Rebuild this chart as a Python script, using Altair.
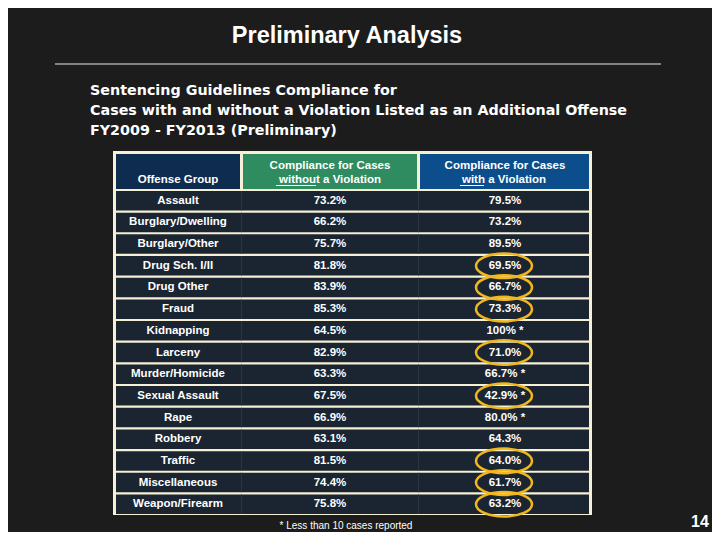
import altair as alt
import pandas as pd

# ---------------- data ----------------
offenses = ["Assault", "Burglary/Dwelling", "Burglary/Other", "Drug Sch. I/II", "Drug Other",
            "Fraud", "Kidnapping", "Larceny", "Murder/Homicide", "Sexual Assault", "Rape",
            "Robbery", "Traffic", "Miscellaneous", "Weapon/Firearm"]
without_violation = [73.2, 66.2, 75.7, 81.8, 83.9, 85.3, 64.5, 82.9, 63.3, 67.5, 66.9, 63.1, 81.5, 74.4, 75.8]
with_violation = [79.5, 73.2, 89.5, 69.5, 66.7, 73.3, 100, 71.0, 66.7, 42.9, 80.0, 64.3, 64.0, 61.7, 63.2]
few_cases = [False, False, False, False, False, False, True, False, True, True, True, False, False, False, False]

title = "Preliminary Analysis"
subtitle = ["Sentencing Guidelines Compliance for",
            "Cases with and without a Violation Listed as an Additional Offense",
            "FY2009 - FY2013 (Preliminary)"]
header_group = "Offense Group"
header_line1 = "Compliance for Cases"
header_without = "without a Violation"
header_with = "with a Violation"
footnote = "* Less than 10 cases reported"
page_number = "14"


def fmt(v, star=False):
    s = ("%d%%" % v) if v == 100 else ("%.1f%%" % v)
    return s + (" *" if star else "")


table = pd.DataFrame({
    "group": offenses,
    "without_txt": [fmt(v) for v in without_violation],
    "with_txt": [fmt(v, s) for v, s in zip(with_violation, few_cases)],
    "lower": [w < wo for w, wo in zip(with_violation, without_violation)],
})

# ---------------- layout ----------------
W, H = 704, 524
BG = "#1c1c1c"
CREAM = "#f6f1d6"
ROW = "#1b2531"
FONT = "Liberation Sans"

C1 = (108, 232)
C2 = (235, 409)
C3 = (412, 581)
HEAD_Y = (146, 181)
ROWS_Y = [183, 506]

one = alt.Data(values=[{"k": 1}])

y_row = alt.Y("group:N", sort=offenses,
              scale=alt.Scale(domain=offenses, range=ROWS_Y, paddingInner=0.1, paddingOuter=0),
              axis=None)


def box(x0, x1, y0, y1, color):
    return alt.Chart(one).mark_rect(color=color).encode(
        x=alt.value(x0), x2=alt.value(x1), y=alt.value(y0), y2=alt.value(y1))


def label(txt, x, y, size, bold=True, align="center", color="white", baseline="middle", font=FONT):
    return alt.Chart(one).mark_text(text=txt, font=font, fontSize=size,
                                    fontWeight="bold" if bold else "normal",
                                    align=align, baseline=baseline, color=color).encode(
        x=alt.value(x), y=alt.value(y))


def hline(x0, x1, y, color, w=1):
    return alt.Chart(one).mark_rule(color=color, strokeWidth=w).encode(
        x=alt.value(x0), x2=alt.value(x1), y=alt.value(y))


layers = []
# frame
layers.append(box(105, 584, 143, 507, CREAM))
# headers
layers.append(box(C1[0], C1[1], HEAD_Y[0], HEAD_Y[1], "#0e2c50"))
layers.append(box(C2[0], C2[1], HEAD_Y[0], HEAD_Y[1], "#2f8c60"))
layers.append(box(C3[0], C3[1], HEAD_Y[0], HEAD_Y[1], "#0b4e8b"))

base = alt.Chart(table)
# row fills
layers.append(base.mark_rect(color=ROW).encode(x=alt.value(C1[0]), x2=alt.value(C3[1]), y=y_row))
# faint column separators
layers.append(base.mark_rect(color="#2b3642").encode(x=alt.value(233), x2=alt.value(234), y=y_row))
layers.append(base.mark_rect(color="#2b3642").encode(x=alt.value(410), x2=alt.value(411), y=y_row))

# header texts
layers.append(label(header_group, 170, 172, 11.5))
layers.append(label(header_line1, 322, 158, 11.5))
layers.append(label(header_without, 322, 172, 11.5))
layers.append(hline(268, 308, 177.5, "white", 1))
layers.append(label(header_line1, 497, 158, 11.5))
layers.append(label(header_with, 496, 172, 11.5))
layers.append(hline(452, 476, 177.5, "white", 1))

# row texts
txt = dict(font=FONT, fontSize=11.5, fontWeight="bold", color="white", align="center", baseline="middle")
layers.append(base.mark_text(**txt).encode(x=alt.value(170), y=y_row, text="group:N"))
layers.append(base.mark_text(**txt).encode(x=alt.value(322), y=y_row, text="without_txt:N"))
layers.append(base.mark_text(**txt).encode(x=alt.value(497), y=y_row, text="with_txt:N"))

# highlight ellipses where compliance is lower with a violation
ellipse = "M-1,0 A1,0.44 0 1,0 1,0 A1,0.44 0 1,0 -1,0 Z"
layers.append(base.transform_filter("datum.lower").mark_point(
    shape=ellipse, size=56 * 56, filled=False, stroke="#f1b71f", strokeWidth=2.5, opacity=1
).encode(x=alt.value(496), y=y_row))

# slide texts
layers.append(label(title, 339, 28, 23.5))
layers.append(hline(47, 653, 56, "#e8e8e8", 1))
for i, line in enumerate(subtitle):
    layers.append(label(line, 82, 83 + 20 * i, 14.3, align="left", font="DejaVu Sans"))
layers.append(label(footnote, 338, 518, 10, bold=False))
layers.append(label(page_number, 692, 514, 16))

chart = alt.layer(*layers).properties(
    width=W, height=H, padding=0, autosize=alt.AutoSizeParams(type="none")
).configure(background=BG).configure_view(stroke=None)

chart.save("out.html", embed_options={"renderer": "svg", "actions": False})
